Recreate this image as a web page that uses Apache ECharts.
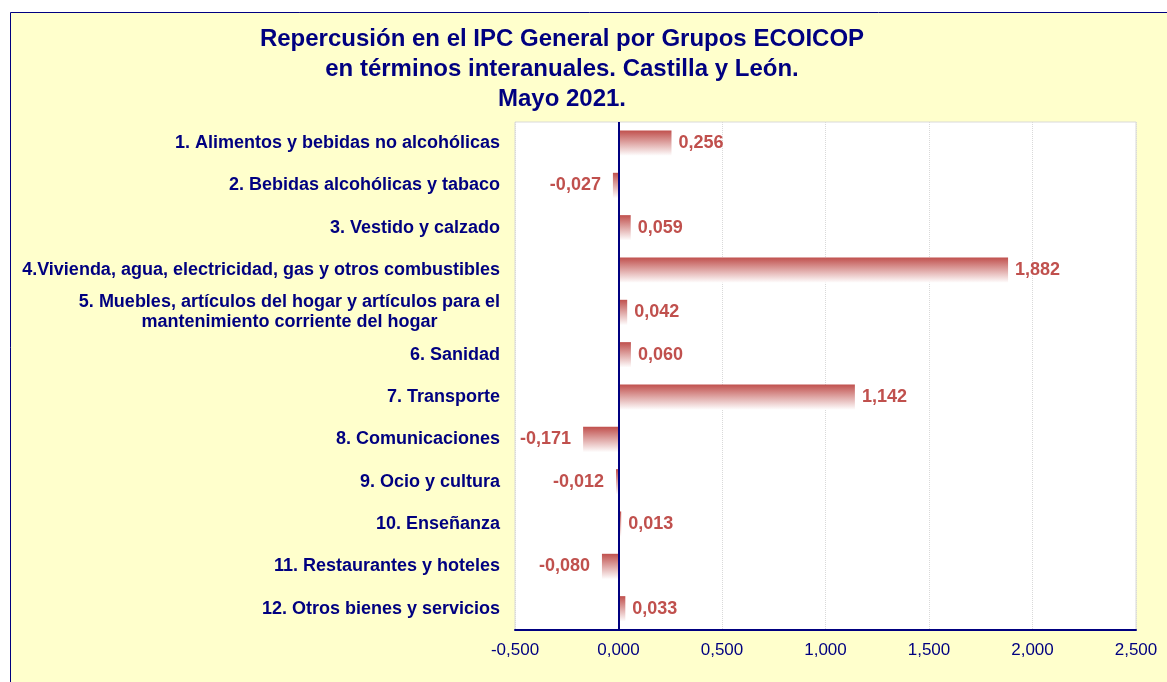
<!DOCTYPE html>
<html><head><meta charset="utf-8">
<script src="https://cdn.jsdelivr.net/npm/echarts@6/dist/echarts.min.js"></script>
<style>html,body{margin:0;padding:0;background:#fff}#c{width:1167px;height:682px}</style>
</head><body><div id="c"></div>
<script>
const titleLines = ['Repercusión en el IPC General por Grupos ECOICOP','en términos interanuales. Castilla y León.','Mayo 2021.'];
const categories = [
 '1. Alimentos y bebidas no alcohólicas',
 '2. Bebidas alcohólicas y tabaco',
 '3. Vestido y calzado',
 '4.Vivienda, agua, electricidad, gas y otros combustibles',
 '5. Muebles, artículos del hogar y artículos para el\nmantenimiento corriente del hogar',
 '6. Sanidad',
 '7. Transporte',
 '8. Comunicaciones',
 '9. Ocio y cultura',
 '10. Enseñanza',
 '11. Restaurantes y hoteles',
 '12. Otros bienes y servicios'
];
const values = [0.256, -0.027, 0.059, 1.882, 0.042, 0.060, 1.142, -0.171, -0.012, 0.013, -0.080, 0.033];
const axisMin = -0.5, axisMax = 2.5, axisStep = 0.5;

const fmt = v => v.toFixed(3).replace('.', ',');
const navy = '#000080';
const red = '#C0504D';
const chart = echarts.init(document.getElementById('c'), null, {renderer:'canvas'});
chart.setOption({
  animation:false,
  backgroundColor:'#fff',
  graphic:[{type:'rect', z:-10, shape:{x:10.5,y:12.5,width:1170,height:680}, style:{fill:'#FFFFCC', stroke:navy, lineWidth:1}}],
  title:{text:titleLines.join('\n'), left:557, top:19, textAlign:'center',
    textStyle:{fontFamily:'Liberation Sans, Arial', fontWeight:'bold', fontSize:24, color:navy, lineHeight:30}},
  grid:{left:515, right:31, top:122, bottom:52, show:true, backgroundColor:'#fff', borderColor:'#d9d9d9', borderWidth:1},
  xAxis:{type:'value', min:axisMin, max:axisMax, interval:axisStep,
    axisLine:{show:true, onZero:false, lineStyle:{color:navy, width:2}},
    axisTick:{show:false},
    axisLabel:{formatter:fmt, color:navy, fontFamily:'Liberation Sans, Arial', fontSize:17, margin:12},
    splitLine:{show:true, lineStyle:{color:'#d9d9d9', type:'dotted'}}},
  yAxis:{type:'category', data:categories, inverse:true,
    axisLine:{show:false, onZero:false}, axisTick:{show:false},
    axisLabel:{margin:15, formatter:(v)=>'{a|'+v+'}',
      rich:{a:{color:navy, fontFamily:'Liberation Sans, Arial', fontWeight:'bold', fontSize:18, lineHeight:20, align:'center'}}}},
  series:[{type:'bar', data:values.map(v => v < 0 ? {value:v, label:{position:'left', distance:12}} : v), barWidth:'60%',
    itemStyle:{color:new echarts.graphic.LinearGradient(0,0,0,1,[{offset:0,color:red},{offset:1,color:'#ffffff'}])},
    label:{show:true, formatter:p=>fmt(p.value), color:red, fontFamily:'Liberation Sans, Arial', fontWeight:'bold', fontSize:18,
      position:'right', distance:7},
    markLine:{silent:true, symbol:'none', label:{show:false}, lineStyle:{color:navy, width:2, type:'solid'}, data:[{xAxis:0}]}
  }]
});
</script></body></html>
